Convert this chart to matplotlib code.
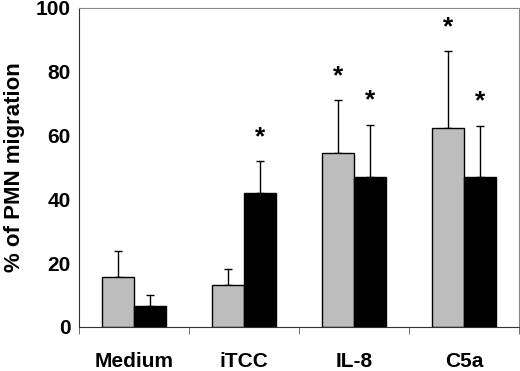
import matplotlib.pyplot as plt
import numpy as np

plt.rcParams['font.family'] = ['Liberation Sans', 'DejaVu Sans']

# data
groups = ['Medium', 'iTCC', 'IL-8', 'C5a']
grey_vals = [15.7, 13.2, 54.6, 62.4]
grey_err = [8.1, 5.0, 16.6, 24.1]
black_vals = [6.6, 42.0, 47.0, 47.0]
black_err = [3.4, 10.0, 16.4, 16.1]
grey_star = [False, False, True, True]
black_star = [False, True, True, True]

fig = plt.figure(figsize=(5.2, 3.71), dpi=100)
ax = fig.add_axes([0.152, 0.1186, 0.846, 0.86])

x = np.arange(len(groups)) + 0.5
w = 0.29

ax.bar(x - w/2, grey_vals, w, color='#bdbdbd', edgecolor='black', linewidth=1, zorder=2)
ax.bar(x + w/2, black_vals, w, color='black', edgecolor='black', linewidth=1, zorder=2)
ax.errorbar(x - w/2, grey_vals, yerr=[np.zeros(4), grey_err], fmt='none',
            ecolor='black', elinewidth=1, capsize=3, capthick=1, zorder=1)
ax.errorbar(x + w/2, black_vals, yerr=[np.zeros(4), black_err], fmt='none',
            ecolor='black', elinewidth=1, capsize=3, capthick=1, zorder=1)

# significance asterisks
for i in range(len(groups)):
    if grey_star[i]:
        ax.text(x[i] - w/2, grey_vals[i] + grey_err[i] + 7.5, '*', ha='center', va='center',
                fontsize=19, fontweight='bold')
    if black_star[i]:
        ax.text(x[i] + w/2, black_vals[i] + black_err[i] + 7.5, '*', ha='center', va='center',
                fontsize=19, fontweight='bold')

ax.set_xlim(0, 4)
ax.set_ylim(0, 100)
ax.set_yticks([0, 20, 40, 60, 80, 100])
ax.set_xticks(x)
ax.set_xticklabels(groups, fontsize=15, fontweight='bold')
ax.set_xticks([0, 1, 2, 3, 4], minor=True)
ax.tick_params(axis='x', which='major', length=0, pad=18)
ax.tick_params(axis='x', which='minor', length=5, direction='out', color='#555555')
ax.tick_params(axis='y', length=0, pad=6, labelsize=15)
for lab in ax.get_yticklabels():
    lab.set_fontweight('bold')

ax.set_ylabel('% of PMN migration', fontsize=16, fontweight='bold', labelpad=8)

ax.spines['left'].set_color('#333333')
ax.spines['bottom'].set_color('#333333')
ax.spines['top'].set_color('#888888')
ax.spines['right'].set_color('#888888')
ax.spines['top'].set_linewidth(0.8)
ax.spines['right'].set_linewidth(0.8)

fig.savefig('out.png', dpi=100)
